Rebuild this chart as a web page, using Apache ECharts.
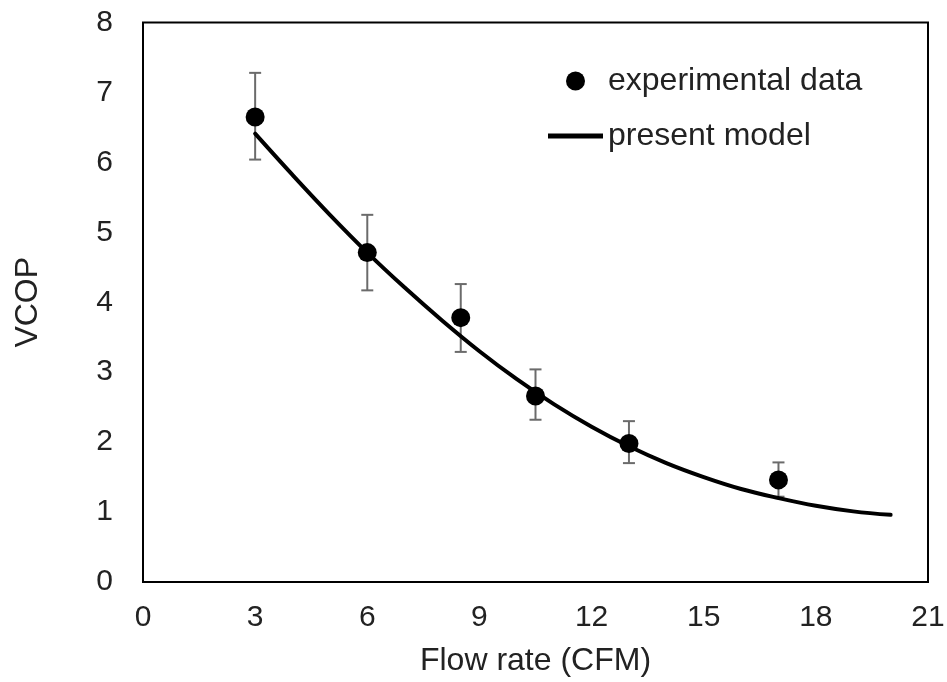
<!DOCTYPE html>
<html>
<head>
<meta charset="utf-8">
<script src="https://cdn.jsdelivr.net/npm/echarts@6/dist/echarts.min.js"></script>
<style>
html,body{margin:0;padding:0;background:#fff;}
#chart{width:947px;height:682px;}
</style>
</head>
<body>
<div id="chart"></div>
<script>
const expX = [3, 6, 8.5, 10.5, 13, 17];
const expY = [6.65, 4.71, 3.78, 2.66, 1.98, 1.46];
const errHigh = [7.28, 5.25, 4.26, 3.04, 2.30, 1.71];
const errLow = [6.04, 4.17, 3.29, 2.32, 1.70, 1.22];
// Present model curve
const modelX = [3, 4, 5, 6, 7, 8, 9, 10, 11, 12, 13, 14, 15, 16, 17, 18, 19, 20];
const modelY = [6.41, 5.82, 5.25, 4.71, 4.21, 3.74, 3.30, 2.90, 2.54, 2.22, 1.94, 1.70, 1.50, 1.33, 1.20, 1.09, 1.01, 0.96];
// Axis ticks
const xTicks = [0, 3, 6, 9, 12, 15, 18, 21];
const yTicks = [0, 1, 2, 3, 4, 5, 6, 7, 8];

const FONT = "'Liberation Sans', Arial, sans-serif";
const TXT = '#222';

const chart = echarts.init(document.getElementById('chart'), null, {renderer: 'canvas'});

const option = {
  backgroundColor: '#fff',
  animation: false,
  textStyle: {fontFamily: FONT},
  grid: {
    left: 143, top: 22.5, right: 19, bottom: 100,
    show: true, borderColor: '#000', borderWidth: 2,
    containLabel: false, outerBoundsMode: 'none'
  },
  legend: {
    orient: 'vertical',
    left: 543, top: 60,
    padding: 5,
    itemWidth: 55, itemHeight: 19, itemGap: 23,
    textStyle: {fontFamily: FONT, fontSize: 32, color: TXT, padding: [0, 0, 0, 0]},
    data: [
      {name: 'experimental data', icon: 'circle'},
      {name: 'present model', icon: 'path://M0,0L55,0L55,5L0,5Z'}
    ]
  },
  xAxis: {
    type: 'value',
    min: xTicks[0], max: xTicks[xTicks.length - 1], interval: 3,
    name: 'Flow rate (CFM)', nameLocation: 'middle', nameGap: 63,
    nameTextStyle: {fontFamily: FONT, fontSize: 32, color: TXT},
    axisLine: {show: false}, axisTick: {show: false}, splitLine: {show: false},
    axisLabel: {fontFamily: FONT, fontSize: 30, color: TXT, margin: 21}
  },
  yAxis: {
    type: 'value',
    min: yTicks[0], max: yTicks[yTicks.length - 1], interval: 1,
    name: 'VCOP', nameLocation: 'middle', nameGap: 99, nameRotate: 90,
    nameTextStyle: {fontFamily: FONT, fontSize: 32, color: TXT},
    axisLine: {show: false}, axisTick: {show: false}, splitLine: {show: false},
    axisLabel: {fontFamily: FONT, fontSize: 30, color: TXT, margin: 30}
  },
  series: [
    {
      name: 'errbars',
      type: 'custom',
      z: 1,
      data: expX.map((x, i) => [x, errLow[i], errHigh[i]]),
      renderItem: function (params, api) {
        const x = api.value(0);
        const pLo = api.coord([x, api.value(1)]);
        const pHi = api.coord([x, api.value(2)]);
        const w = 6;
        const st = {stroke: '#6b6b6b', lineWidth: 2};
        return {
          type: 'group',
          children: [
            {type: 'line', shape: {x1: pHi[0], y1: pHi[1], x2: pLo[0], y2: pLo[1]}, style: st},
            {type: 'line', shape: {x1: pHi[0] - w, y1: pHi[1], x2: pHi[0] + w, y2: pHi[1]}, style: st},
            {type: 'line', shape: {x1: pLo[0] - w, y1: pLo[1], x2: pLo[0] + w, y2: pLo[1]}, style: st}
          ]
        };
      }
    },
    {
      name: 'present model',
      type: 'line',
      z: 2,
      smooth: 0.4,
      symbol: 'none',
      data: modelX.map((x, i) => [x, modelY[i]]),
      lineStyle: {color: '#000', width: 4, cap: 'round'},
      itemStyle: {color: '#000'}
    },
    {
      name: 'experimental data',
      type: 'scatter',
      z: 3,
      symbol: 'circle',
      symbolSize: 19,
      data: expX.map((x, i) => [x, expY[i]]),
      itemStyle: {color: '#000', opacity: 1}
    }
  ]
};

chart.setOption(option);
</script>
</body>
</html>
